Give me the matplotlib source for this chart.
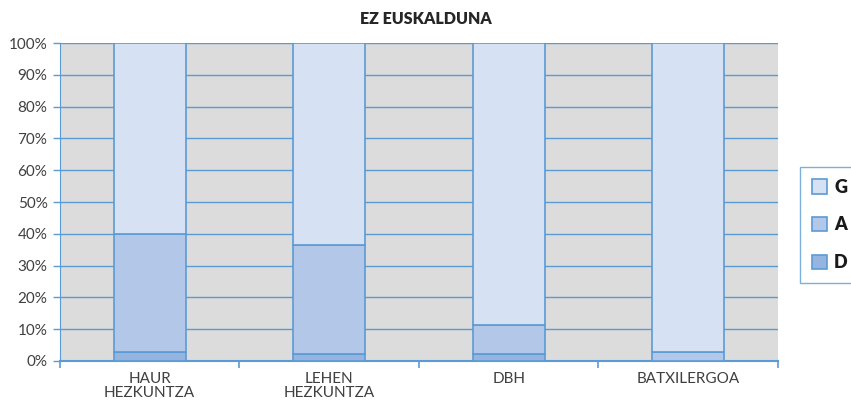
import numpy as np
import matplotlib.pyplot as plt
from matplotlib.ticker import FuncFormatter

categories = ['HAUR\nHEZKUNTZA', 'LEHEN\nHEZKUNTZA', 'DBH', 'BATXILERGOA']
d_vals = [2.7, 2.2, 2.2, 0.0]
a_vals = [37.3, 34.3, 9.1, 2.8]
g_vals = [60.0, 63.5, 88.7, 97.2]

edge = '#5b9bd5'
colors = {'D': '#95b4df', 'A': '#b3c8e8', 'G': '#d6e2f3'}
txt = '#404040'

plt.rcParams['font.family'] = ['Lato', 'DejaVu Sans']

fig = plt.figure(figsize=(8.51, 4.12), dpi=100)
ax = fig.add_axes([0.0705, 0.1238, 0.8435, 0.7718])
ax.set_facecolor('#dcdcdc')

x = np.arange(len(categories))
w = 0.4
bd = ax.bar(x, d_vals, w, color=colors['D'], edgecolor=edge, linewidth=1.2, label='D', zorder=3)
ba = ax.bar(x, a_vals, w, bottom=d_vals, color=colors['A'], edgecolor=edge, linewidth=1.2, label='A', zorder=3)
bottom_g = np.array(d_vals) + np.array(a_vals)
bg = ax.bar(x, g_vals, w, bottom=bottom_g, color=colors['G'], edgecolor=edge, linewidth=1.2, label='G', zorder=3)

ax.set_xlim(-0.5, len(categories) - 0.5)
ax.set_ylim(0, 100)
ax.set_yticks(np.arange(0, 101, 10))
ax.yaxis.set_major_formatter(FuncFormatter(lambda v, p: '%d%%' % v))
ax.grid(axis='y', color=edge, linewidth=1.0, zorder=1)
ax.set_axisbelow(True)

ax.set_xticks(x)
ax.set_xticklabels(categories, fontsize=11, color=txt, linespacing=0.95)
ax.set_xticks(np.arange(-0.5, len(categories)), minor=True)
ax.tick_params(axis='x', which='major', length=0, pad=8)
ax.tick_params(axis='x', which='minor', length=5, color=edge, width=1.2)
ax.tick_params(axis='y', length=5, color=edge, width=1.0, labelsize=11, labelcolor=txt, pad=4)

for s in ['top', 'right']:
    ax.spines[s].set_visible(False)
ax.spines['left'].set_color(edge)
ax.spines['bottom'].set_color(edge)
ax.spines['bottom'].set_linewidth(1.5)

fig.text(0.5, 0.955, 'EZ EUSKALDUNA', ha='center', va='center', fontsize=11.5,
         fontweight='heavy', color='#262626')

leg = ax.legend(handles=[bg, ba, bd], labels=['G', 'A', 'D'], loc='upper left',
                bbox_to_anchor=(0.94, 0.595), bbox_transform=fig.transFigure,
                frameon=True, fancybox=False, prop={'size': 13},
                handlelength=0.85, handleheight=0.85, labelspacing=1.15,
                borderpad=0.65, borderaxespad=0, handletextpad=0.4)
leg.get_frame().set_edgecolor(edge)
leg.get_frame().set_linewidth(1.0)
for t in leg.get_texts():
    t.set_color('#1a1a1a')
    t.set_fontweight('heavy')

fig.savefig('out.png', dpi=100)
